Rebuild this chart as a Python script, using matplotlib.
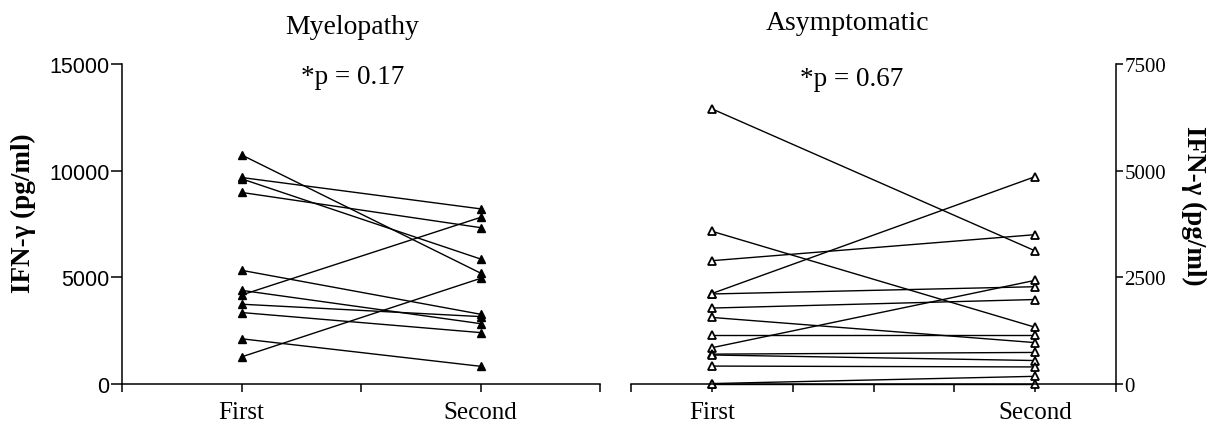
import matplotlib
matplotlib.use('Agg')
import matplotlib.pyplot as plt

# values (pg/ml)
myelo_first = [10740, 9680, 9620, 8980, 5330, 4390, 4170, 3740, 3350, 2120, 1270]
myelo_second = [5200, 8210, 5860, 7330, 3270, 2830, 7810, 3160, 2410, 830, 4950]

asym_first = [6450, 3580, 2890, 2120, 2110, 1780, 1560, 1150, 850, 700, 680, 420, 10, 0]
asym_second = [3120, 1330, 3500, 4860, 2280, 1980, 970, 1150, 2430, 740, 550, 400, 180, 0]

visits = ['First', 'Second']
myelo_ticks = [0, 5000, 10000, 15000]
asym_ticks = [0, 2500, 5000, 7500]

serif = 'Liberation Serif'
sans = 'Liberation Sans'

W, H = 1208, 431
fig = plt.figure(figsize=(W / 100, H / 100), dpi=100)

def box(x0, x1, ytop, ybot):
    return [x0 / W, 1 - ybot / H, (x1 - x0) / W, (ybot - ytop) / H]

ax1 = fig.add_axes(box(122, 600, 65, 385))
ax2 = fig.add_axes(box(631, 1116, 65, 385))

# left: myelopathy, filled triangles
for a, b in zip(myelo_first, myelo_second):
    ax1.plot([1, 3], [a, b], color='black', lw=1.0, marker='^', ms=6,
             mfc='black', mec='black', clip_on=False)
ax1.set_xlim(0, 4)
ax1.set_ylim(0, 15000)
ax1.set_xticks([0, 1, 2, 3, 4])
ax1.set_xticklabels(['', visits[0], '', visits[1], ''], family=serif, fontsize=18)
ax1.set_yticks(myelo_ticks)
ax1.set_yticklabels([str(t) for t in myelo_ticks], family=sans, fontsize=15.5)
ax1.spines['top'].set_visible(False)
ax1.spines['right'].set_visible(False)
ax1.tick_params(axis='y', length=8, width=1.1, pad=1)
ax1.tick_params(axis='x', length=6, width=1.1, pad=6)

# right: asymptomatic, open triangles
for a, b in zip(asym_first, asym_second):
    ax2.plot([1, 5], [a, b], color='black', lw=1.0, marker='^', ms=6,
             mfc='white', mec='black', mew=1.3, clip_on=False)
ax2.set_xlim(0, 6)
ax2.set_ylim(0, 7500)
ax2.set_xticks(range(7))
ax2.set_xticklabels(['', visits[0], '', '', '', visits[1], ''], family=serif, fontsize=18)
ax2.yaxis.tick_right()
ax2.set_yticks(asym_ticks)
ax2.set_yticklabels([str(t) for t in asym_ticks], family=serif, fontsize=15)
ax2.spines['top'].set_visible(False)
ax2.spines['left'].set_visible(False)
ax2.tick_params(axis='y', length=5, width=1.1, pad=1)
ax2.tick_params(axis='x', length=6, width=1.1, pad=6)

for ax in (ax1, ax2):
    for s in ax.spines.values():
        s.set_linewidth(1.1)

fig.text(352 / W, 1 - 28 / H, 'Myelopathy', family=serif, fontsize=20, ha='center', va='center')
fig.text(353 / W, 1 - 78 / H, '*p = 0.17', family=serif, fontsize=19.5, ha='center', va='center')
fig.text(847 / W, 1 - 23 / H, 'Asymptomatic', family=serif, fontsize=20, ha='center', va='center')
fig.text(852 / W, 1 - 80 / H, '*p = 0.67', family=serif, fontsize=19.5, ha='center', va='center')

fig.text(23 / W, 1 - 213 / H, 'IFN-γ (pg/ml)', family=serif, fontsize=19.5, fontweight='bold',
         rotation=90, ha='center', va='center')
fig.text(1194 / W, 1 - 206 / H, 'IFN-γ (pg/ml)', family=serif, fontsize=19.5, fontweight='bold',
         rotation=270, ha='center', va='center')

fig.savefig('out.png', dpi=100)
